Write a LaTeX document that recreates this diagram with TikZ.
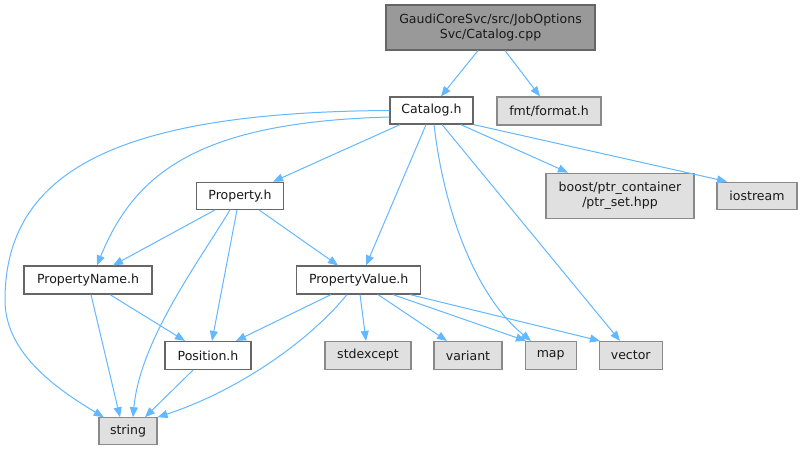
\documentclass[tikz,border=0pt]{standalone}
\usepackage{fontspec}
\setmainfont{DejaVu Sans}
\usetikzlibrary{arrows.meta}
\definecolor{edgec}{HTML}{63B8FF}
\definecolor{cSix}{HTML}{666666}
\definecolor{cNine}{HTML}{999999}
\definecolor{cEE}{HTML}{E0E0E0}
\begin{document}
\begin{tikzpicture}[x=0.75pt,y=-0.75pt,
 base/.style={draw, line width=0.9pt, inner sep=0pt, font=\fontsize{9.4pt}{11.2pt}\selectfont, align=center, text=black!90},
 curnode/.style={base, draw=cSix, fill=cNine},
 wnode/.style={base, draw=cSix, fill=white},
 gnode/.style={base, draw=cNine!90!black, fill=cEE},
 dep/.style={draw=edgec, line width=0.75pt, -{Triangle[length=7.5pt,width=6pt]}}
]
\useasboundingbox (0,0) rectangle (802,451);
\fill[white] (0,0) rectangle (802,451);
% nodes
\node[curnode, minimum width=156.75pt, minimum height=33.75pt] (root) at (490.5,27.5) {GaudiCoreSvc/src/JobOptions\\Svc/Catalog.cpp};
\node[wnode, minimum width=62.25pt, minimum height=20.25pt] (cat) at (431.5,110.5) {Catalog.h};
\node[gnode, minimum width=78pt, minimum height=21pt] (fmt) at (549,111) {fmt/format.h};
\node[gnode, minimum width=111pt, minimum height=33.75pt] (boost) at (620,195.7) {boost/ptr\_container\\/ptr\_set.hpp};
\node[gnode, minimum width=60pt, minimum height=20.25pt] (ios) at (757,195.7) {iostream};
\node[wnode, minimum width=65.25pt, minimum height=20.25pt] (prop) at (240,195.8) {Property.h};
\node[wnode, minimum width=96pt, minimum height=21pt] (pname) at (88,280) {PropertyName.h};
\node[wnode, minimum width=93pt, minimum height=21pt] (pvalue) at (358.7,280) {PropertyValue.h};
\node[wnode, minimum width=64.5pt, minimum height=21pt] (pos) at (208,355.5) {Position.h};
\node[gnode, minimum width=43.5pt, minimum height=20.25pt] (str) at (128,431.3) {string};
\node[gnode, minimum width=64.5pt, minimum height=21pt] (stdex) at (368,355.5) {stdexcept};
\node[gnode, minimum width=51pt, minimum height=21pt] (variant) at (468,355.5) {variant};
\node[gnode, minimum width=38.25pt, minimum height=21pt] (map) at (550.7,355.5) {map};
\node[gnode, minimum width=47.25pt, minimum height=21pt] (vector) at (630.7,355.5) {vector};
% edges
\draw[dep] ([xshift=-9.4pt]root.south) -- ([xshift=7.1pt]cat.north);
\draw[dep] ([xshift=10.9pt]root.south) -- ([xshift=-6.75pt]fmt.north);
\draw[dep] (cat.west) .. controls (120,112) and (5,170) .. (5,300) .. controls (5,350) and (50,385) .. ([xshift=4pt]str.north west);
\draw[dep] ([yshift=-4.9pt]cat.west) .. controls (200,122) and (135,172) .. ([xshift=6.75pt]pname.north);
\draw[dep] ([xshift=-23.6pt]cat.south) -- ([xshift=24.75pt]prop.north);
\draw[dep] ([xshift=-4.1pt]cat.south) -- ([xshift=5.5pt]pvalue.north);
\draw[dep] ([xshift=1.9pt]cat.south) .. controls (445,220) and (480,300) .. ([xshift=-14.8pt]map.north);
\draw[dep] ([xshift=7.9pt]cat.south) -- ([xshift=-8pt]vector.north);
\draw[dep] ([xshift=22pt]cat.south) -- ([xshift=-39pt]boost.north);
\draw[dep] (cat.south east) -- ([xshift=-22.5pt]ios.north);
\draw[dep] ([xshift=-18.75pt]prop.south) -- ([xshift=18.75pt]pname.north);
\draw[dep] ([xshift=-7.5pt]prop.south) .. controls (200,260) and (140,340) .. ([xshift=3.75pt]str.north);
\draw[dep] ([xshift=-2.25pt]prop.south) -- ([xshift=3pt]pos.north);
\draw[dep] ([xshift=14.25pt]prop.south) -- ([xshift=-15.5pt]pvalue.north);
\draw[dep] ([xshift=2.25pt]pname.south) -- ([xshift=-6pt]str.north);
\draw[dep] ([xshift=16.5pt]pname.south) -- ([xshift=-17.25pt]pos.north);
\draw[dep] ([xshift=-20.8pt]pvalue.south) -- ([xshift=21pt]pos.north);
\draw[dep] ([xshift=-8.8pt]pvalue.south) .. controls (310,340) and (240,390) .. (str.north east);
\draw[dep] ([xshift=1pt]pvalue.south) -- ([xshift=-1.5pt]stdex.north);
\draw[dep] ([xshift=14.5pt]pvalue.south) -- ([xshift=-15.75pt]variant.north);
\draw[dep] ([xshift=25.7pt]pvalue.south) -- ([xshift=1pt]map.north west);
\draw[dep] ([xshift=38.5pt]pvalue.south) -- ([xshift=1pt]vector.north west);
\draw[dep] ([xshift=-11.25pt]pos.south) -- ([xshift=12.75pt]str.north);
\end{tikzpicture}
\end{document}
